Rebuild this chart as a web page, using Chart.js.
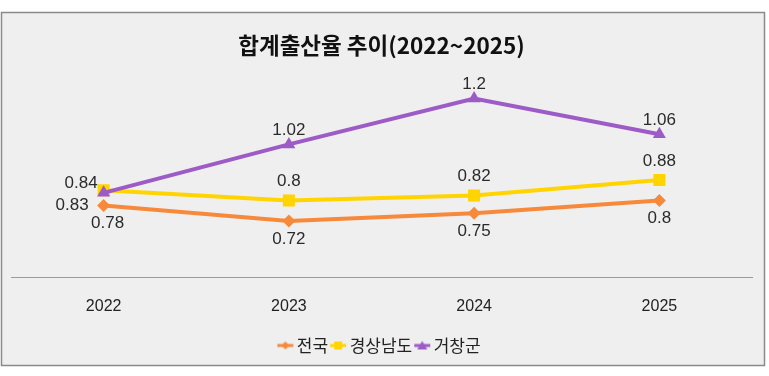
<!DOCTYPE html>
<html>
<head>
<meta charset="utf-8">
<script src="https://cdn.jsdelivr.net/npm/chart.js@4/dist/chart.umd.min.js"></script>
<style>
  html, body { margin: 0; padding: 0; background: #ffffff; }
  #wrap { position: relative; width: 769px; height: 376px; }
</style>
</head>
<body>
<div id="wrap"><canvas id="c" width="769" height="376"></canvas></div>
<script>
const years = ['2022', '2023', '2024', '2025'];
const seriesNames = ['전국', '경상남도', '거창군'];
const national = [0.78, 0.72, 0.75, 0.8];
const gyeongnam = [0.84, 0.8, 0.82, 0.88];
const geochang = [0.83, 1.02, 1.2, 1.06];
const chartTitle = '합계출산율 추이(2022~2025)';

const colors = ['#F7893B', '#FFD400', '#9C5BC6'];
const markers = ['rectRot', 'rect', 'triangle'];
const radii = [6.5, 8.5, 7.5];

function makeSwatch(color, kind) {
  const c = document.createElement('canvas');
  c.width = 18; c.height = 12;
  const g = c.getContext('2d');
  g.strokeStyle = color; g.fillStyle = color; g.lineWidth = 3;
  g.beginPath(); g.moveTo(1, 6); g.lineTo(17, 6); g.stroke();
  g.beginPath();
  if (kind === 'rectRot') { g.moveTo(9, 2); g.lineTo(13, 6); g.lineTo(9, 10); g.lineTo(5, 6); }
  else if (kind === 'rect') { g.rect(5, 2, 8, 8); }
  else { g.moveTo(9, 1.5); g.lineTo(14, 10); g.lineTo(4, 10); }
  g.closePath(); g.fill();
  return c;
}
const swatches = colors.map((c, i) => makeSwatch(c, markers[i]));

const bgPlugin = {
  id: 'bgBox',
  beforeDraw(chart) {
    const ctx = chart.ctx;
    ctx.save();
    ctx.fillStyle = '#efefef';
    ctx.fillRect(1.5, 12.5, 763, 353);
    ctx.strokeStyle = '#8a8a8a';
    ctx.lineWidth = 1.5;
    ctx.strokeRect(1.5, 12.5, 763, 353);
    ctx.restore();
  }
};

function placement(i, j) {
  if (i === 0) return { dx: j === 0 ? 4 : 0, dy: 18, align: 'center' };
  if (i === 1) return j === 0 ? { dx: -6, dy: -7, align: 'right' } : { dx: 0, dy: -19, align: 'center' };
  return j === 0 ? { dx: -15, dy: 12, align: 'right' } : { dx: 0, dy: -14, align: 'center' };
}

const labelPlugin = {
  id: 'valueLabels',
  afterDatasetsDraw(chart) {
    const ctx = chart.ctx;
    ctx.save();
    ctx.font = '17px "Liberation Sans Narrow", "Liberation Sans", sans-serif';
    ctx.fillStyle = '#2b2b2b';
    ctx.textBaseline = 'middle';
    chart.data.datasets.forEach((ds, i) => {
      const meta = chart.getDatasetMeta(i);
      meta.data.forEach((pt, j) => {
        const p = placement(i, j);
        ctx.textAlign = p.align;
        ctx.fillText(String(ds.data[j]), pt.x + p.dx, pt.y + p.dy);
      });
    });
    ctx.restore();
  }
};

const seriesData = [national, gyeongnam, geochang];
const datasets = seriesData.map((d, i) => ({
  label: seriesNames[i],
  data: d,
  borderColor: colors[i],
  backgroundColor: colors[i],
  borderWidth: 4,
  pointStyle: markers[i],
  pointRadius: radii[i],
  pointHoverRadius: radii[i],
  pointBackgroundColor: colors[i],
  pointBorderColor: colors[i],
  pointBorderWidth: 0,
  tension: 0,
  order: i === 2 ? -1 : i
}));

new Chart(document.getElementById('c'), {
  type: 'line',
  data: { labels: years, datasets },
  plugins: [bgPlugin, labelPlugin],
  options: {
    responsive: false,
    animation: false,
    layout: { padding: { left: 11, right: 17, top: 0, bottom: 12 } },
    plugins: {
      title: {
        display: true,
        text: chartTitle,
        color: '#111',
        font: { family: '"Noto Sans CJK KR", sans-serif', size: 22.5, weight: 'bold' },
        padding: { top: 32, bottom: 14 }
      },
      legend: {
        position: 'bottom',
        labels: {
          usePointStyle: true,
          pointStyleWidth: 6,
          padding: 7,
          color: '#222',
          font: { family: '"Noto Sans CJK KR", sans-serif', size: 17 },
          sort: (a, b) => a.datasetIndex - b.datasetIndex,
          generateLabels(chart) {
            const items = Chart.defaults.plugins.legend.labels.generateLabels(chart);
            items.forEach(it => { it.pointStyle = swatches[it.datasetIndex]; });
            return items;
          }
        }
      },
      tooltip: { enabled: false }
    },
    scales: {
      x: {
        offset: true,
        grid: { display: false },
        border: { display: true, color: '#9a9a9a', width: 1 },
        ticks: { padding: 12, color: '#222', font: { family: '"Liberation Sans", sans-serif', size: 16 } },
        afterFit(scale) { scale.height = 53; }
      },
      y: {
        display: false,
        min: 0.5,
        max: 1.3
      }
    }
  }
});
</script>
</body>
</html>
